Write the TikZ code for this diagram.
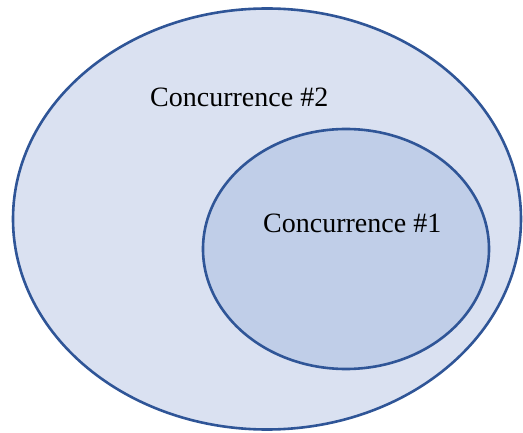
\documentclass[tikz,border=0pt]{standalone}
\usepackage{fontspec}
\setmainfont{Liberation Serif}
\usetikzlibrary{shapes.geometric,positioning}
\definecolor{setline}{HTML}{2F5597}
\definecolor{outerfill}{HTML}{DAE1F1}
\definecolor{innerfill}{HTML}{C0CEE8}
\begin{document}
\begin{tikzpicture}[x=1pt,y=-1pt]
    \tikzstyle{every node}+=[inner sep=0pt]
    \tikzstyle{setshape}=[ellipse, draw=setline, line width=2.6pt]
    \tikzstyle{setlabel}=[anchor=base west, font=\fontsize{28}{32}\selectfont]
    \useasboundingbox (0,0) rectangle (523,433);
    \node [setshape, fill=outerfill, minimum width=508, minimum height=421] (set2) at (267,219) {};
    \node [setshape, fill=innerfill, minimum width=286, minimum height=240] (set1) at (346,249) {};
    \node [setlabel] (label2) at (150,107) {Concurrence \#2};
    \node [setlabel] (label1) at (263,233) {Concurrence \#1};
\end{tikzpicture}
\end{document}
